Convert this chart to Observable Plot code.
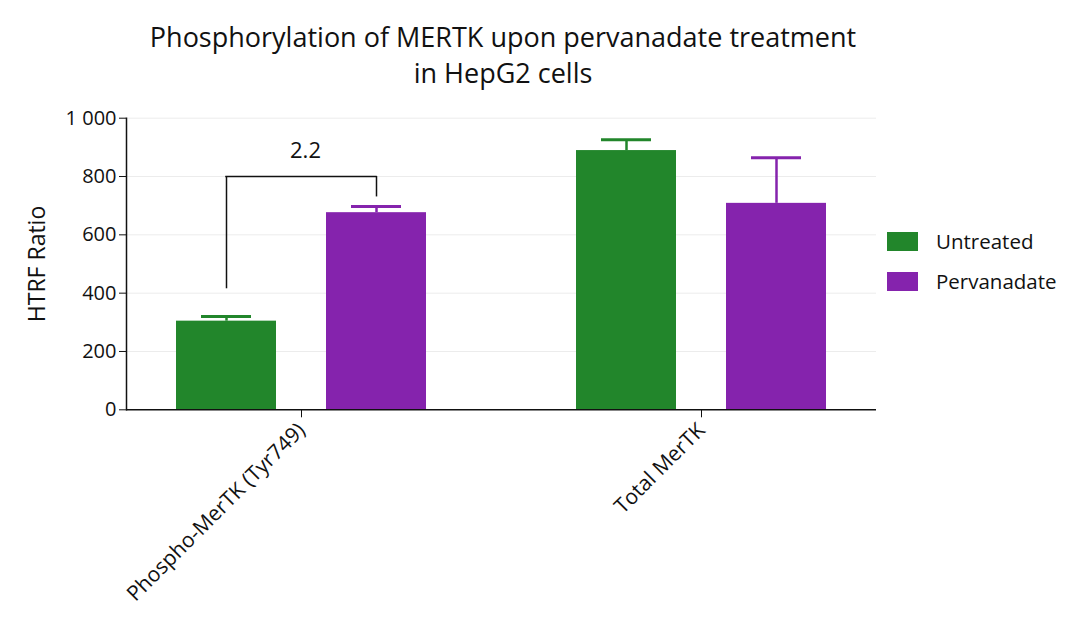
<!DOCTYPE html>
<html>
<head>
<meta charset="utf-8">
<script src="https://cdn.jsdelivr.net/npm/d3@7"></script>
<script src="https://cdn.jsdelivr.net/npm/@observablehq/plot@0.6"></script>
<style>
  html, body { margin: 0; padding: 0; background: #fff; }
  #root { position: relative; width: 1080px; height: 631px; font-family: "Open Sans", Roboto, sans-serif; color: #111; }
  #title { position: absolute; left: 126px; width: 754px; top: 19px; text-align: center; font-size: 27px; line-height: 36px; color: #111; }
  #chart { position: absolute; left: 0; top: 95px; }
  #legend { position: absolute; left: 887px; top: 231px; font-size: 20.5px; color: #111; }
  .item { display: flex; align-items: center; height: 20px; margin-bottom: 20px; }
  .sw { width: 31px; height: 19px; margin-right: 18px; }
  #chart svg g[aria-label="y-axis tick label"] text { font-size: 20px !important; }
  #chart svg g[aria-label="x-axis tick label"] text { font-size: 21px !important; }
  #chart svg g[aria-label="y-axis label"] text { font-size: 23px !important; }
  #chart svg g[aria-label="text"] text { font-size: 22px !important; }
</style>
</head>
<body>
<div id="root">
  <div id="title">Phosphorylation of MERTK upon pervanadate treatment<br>in HepG2 cells</div>
  <div id="chart"></div>
  <div id="legend"></div>
</div>
<script>
// ---- data ----
const categories = ["Phospho-MerTK (Tyr749)", "Total MerTK"];
const treatments = ["Untreated", "Pervanadate"];
const untreatedMean = [304, 889];
const untreatedErr = [16, 37];
const pervanadateMean = [676, 708];
const pervanadateErr = [21, 156];
const colors = ["#22862b", "#8523ad"];
const yTicks = [0, 200, 400, 600, 800, 1000];
const bracketCategory = ["Phospho-MerTK (Tyr749)"];
const bracketLeftBottom = [415];
const bracketRightBottom = [730];
const bracketTop = [800];
const bracketLabel = ["2.2"];
const bracketLabelY = [886];

// ---- build tables ----
const rowsU = categories.map((c, i) => ({category: c, treatment: treatments[0], mean: untreatedMean[i], top: untreatedMean[i] + untreatedErr[i]}));
const rowsP = categories.map((c, i) => ({category: c, treatment: treatments[1], mean: pervanadateMean[i], top: pervanadateMean[i] + pervanadateErr[i]}));
const bracket = bracketCategory.map((c, i) => ({category: c, lb: bracketLeftBottom[i], rb: bracketRightBottom[i], top: bracketTop[i], label: bracketLabel[i], ly: bracketLabelY[i]}));

const fmt = d => d3.format(",")(d).replace(/,/g, " ");
const off = 75;

const chart = Plot.plot({
  width: 1080,
  height: 536,
  marginLeft: 126,
  marginRight: 204,
  marginTop: 22.7,
  marginBottom: 221.7,
  style: {fontFamily: "'Open Sans', Roboto, sans-serif", color: "#111", background: "#fff"},
  x: {domain: categories, paddingInner: 0.75, paddingOuter: 0.3125, align: 0.5},
  y: {domain: [0, 1000]},
  color: {domain: treatments, range: colors},
  marks: [
    Plot.ruleY(yTicks.filter(d => d > 0), {stroke: "#ececec", strokeWidth: 1}),
    // bars
    Plot.barY(rowsU, {x: "category", y: "mean", fill: "treatment", dx: -off}),
    Plot.barY(rowsP, {x: "category", y: "mean", fill: "treatment", dx: off}),
    // error bars
    Plot.ruleX(rowsU, {x: "category", y1: "mean", y2: "top", stroke: "treatment", strokeWidth: 2.5, dx: -off}),
    Plot.ruleX(rowsP, {x: "category", y1: "mean", y2: "top", stroke: "treatment", strokeWidth: 2.5, dx: off}),
    Plot.tickY(rowsU, {x: "category", y: "top", stroke: "treatment", strokeWidth: 3, dx: -off, insetLeft: 25, insetRight: 25}),
    Plot.tickY(rowsP, {x: "category", y: "top", stroke: "treatment", strokeWidth: 3, dx: off, insetLeft: 25, insetRight: 25}),
    // bracket
    Plot.ruleX(bracket, {x: "category", y1: "lb", y2: "top", dx: -off, stroke: "#111", strokeWidth: 1.5}),
    Plot.ruleX(bracket, {x: "category", y1: "rb", y2: "top", dx: off, stroke: "#111", strokeWidth: 1.5}),
    Plot.tickY(bracket, {x: "category", y: "top", insetLeft: -25.75, insetRight: -25.75, stroke: "#111", strokeWidth: 1.5}),
    Plot.text(bracket, {x: "category", y: "ly", text: "label", dx: 4, fill: "#111"}),
    // axes
    Plot.axisY({ticks: yTicks, tickFormat: fmt, tickSize: 7, tickPadding: 3, label: "HTRF Ratio", labelAnchor: "center", labelArrow: "none", labelOffset: 98}),
    Plot.axisX({tickSize: 8, tickRotate: -45, tickPadding: 9, label: null}),
    Plot.ruleY([0], {stroke: "#111", strokeWidth: 1.5}),
    Plot.frame({anchor: "left", stroke: "#111", strokeWidth: 1.5})
  ]
});
document.getElementById("chart").appendChild(chart);

// legend
const lg = document.getElementById("legend");
treatments.forEach((t, i) => {
  const it = document.createElement("div");
  it.className = "item";
  const sw = document.createElement("div");
  sw.className = "sw";
  sw.style.background = colors[i];
  const tx = document.createElement("span");
  tx.textContent = t;
  it.appendChild(sw); it.appendChild(tx);
  lg.appendChild(it);
});
</script>
</body>
</html>
